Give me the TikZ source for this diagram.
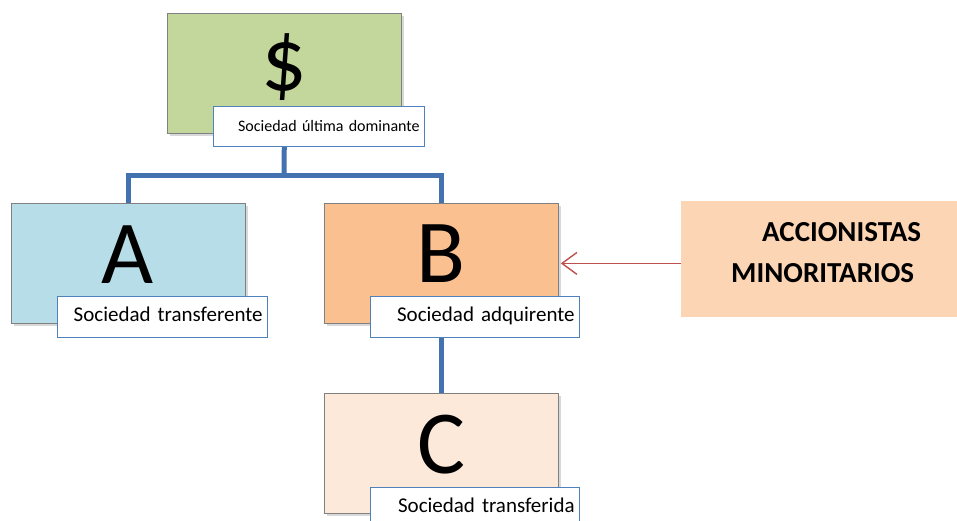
\documentclass[tikz,border=0pt]{standalone}
\usepackage{fontspec}
\setmainfont{Carlito}
\usetikzlibrary{shadows,arrows.meta}

\definecolor{domgreen}{HTML}{C3D69B}
\definecolor{transblue}{HTML}{B7DEE8}
\definecolor{acqorange}{HTML}{FAC090}
\definecolor{subpeach}{HTML}{FCE9DA}
\definecolor{minorpeach}{HTML}{FCD5B5}
\definecolor{tagblue}{HTML}{4F81BD}
\definecolor{linkblue}{RGB}{68,114,176}
\definecolor{arrowred}{HTML}{C0504D}
\definecolor{edgegray}{HTML}{808080}

\begin{document}
\begin{tikzpicture}[x=1pt,y=-1pt,
  entity/.style={anchor=north west, minimum width=234pt, minimum height=120pt,
    inner sep=0pt, draw=edgegray, line width=0.8pt,
    drop shadow={shadow xshift=2.5pt, shadow yshift=-2.5pt, opacity=0.3}},
  glyph/.style={anchor=base, inner sep=0pt, font=\fontsize{90}{90}\selectfont},
  tag/.style={anchor=north west, draw=tagblue, line width=1.3pt, fill=white,
    inner xsep=5pt, inner ysep=0pt, align=right},
  tagtext/.style={font=\fontsize{21}{24}\selectfont, text height=14pt, text depth=5pt,
    minimum height=41pt},
  link/.style={draw=linkblue, line width=5pt},
  minarrow/.style={draw=arrowred, line width=1.4pt,
    -{Straight Barb[length=15pt,width=22pt,line width=1.4pt]}, shorten >=2pt},
  minority/.style={anchor=north west, minimum width=276pt, minimum height=116pt,
    inner sep=0pt, fill=minorpeach},
  minortext/.style={anchor=north west, inner sep=0pt, align=left,
    font=\fontsize{29}{41}\selectfont\bfseries}]

\useasboundingbox (0,0) rectangle (957,520);
\fill[white] (0,0) rectangle (957,520);

% company boxes
\node[entity, fill=domgreen] (S) at (167,13) {};
\node[entity, fill=transblue] (A) at (11,203) {};
\node[entity, fill=acqorange] (B) at (324,203) {};
\node[entity, fill=subpeach] (C) at (324,393) {};
\node[minority] (M) at (681,201) {};

% big letters
\node[glyph] (Sg) at (284,90) {\$};
\node[glyph] (Ag) at (128,283) {A};
\node[glyph] (Bg) at (441,282) {B};
\node[glyph] (Cg) at (441,473) {C};

% ownership links
\coordinate (J) at (284,175);
\draw[link] (S.south) -- (J);
\draw[link] (A.north) |- (J) -| (B.north);
\draw[link] (B.south) -- (C.north);

% minority shareholders
\node[minortext] (Mt) at (731,222) {\hspace*{31pt}ACCIONISTAS\\MINORITARIOS};
\draw[minarrow] (M.west |- B.east) -- (B.east);

% captions
\node[tag, font=\fontsize{16}{18}\selectfont, text width=201pt, text height=14pt,
  text depth=4pt, minimum height=40pt] (Sl) at (213,106) {Sociedad última dominante};
\node[tag, tagtext, text width=200pt] (Al) at (57,296) {Sociedad transferente};
\node[tag, tagtext, text width=199pt] (Bl) at (370,296) {Sociedad adquirente};
\node[tag, tagtext, text width=199pt] (Cl) at (370,487) {Sociedad transferida};
\end{tikzpicture}
\end{document}
